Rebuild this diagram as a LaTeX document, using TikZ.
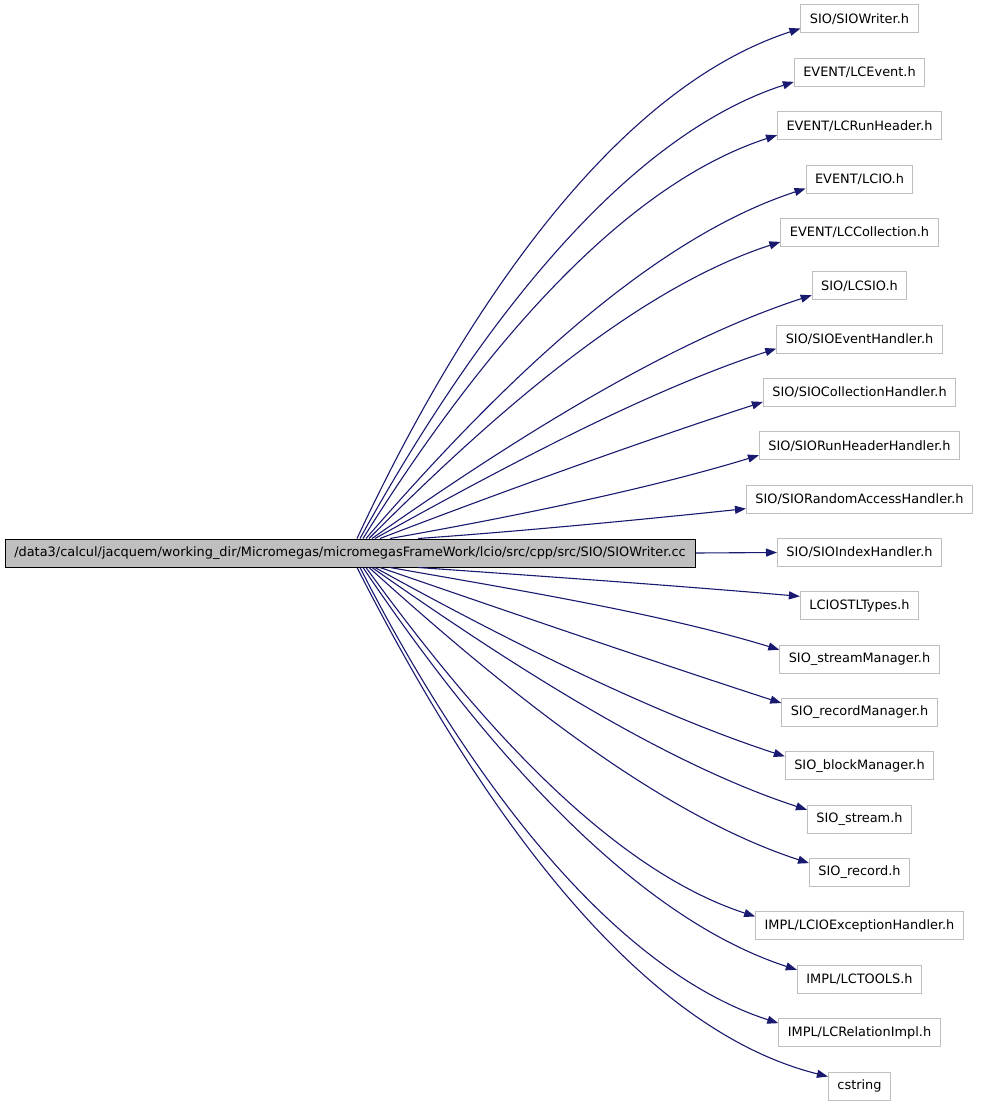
\documentclass[tikz,border=0pt]{standalone}
\usepackage{fontspec}
\setmainfont{DejaVu Sans}
\usetikzlibrary{arrows.meta,calc}

\definecolor{edgeblue}{HTML}{191970}
\definecolor{boxgray}{HTML}{BFBFBF}

\tikzset{
	header/.style={draw=boxgray, line width=1pt, minimum height=28pt, inner xsep=9pt,
		font=\fontsize{12.9}{14}\selectfont},
	source/.style={header, draw=black, fill=boxgray},
	edge/.style={draw=edgeblue, line width=1.1pt, -{Triangle[length=11pt,width=8pt]}},
}

\begin{document}
\begin{tikzpicture}[x=1pt, y=1pt]
	\useasboundingbox (0,0) rectangle (981,-1107);
	
	% the source file
	\node[source, minimum width=690pt] (main) at (350,-553)
		{/data3/calcul/jacquem/working\_dir/Micromegas/micromegasFrameWork/lcio/src/cpp/src/SIO/SIOWriter.cc};
	
	% included headers
	\foreach \lbl [count=\i] in {
		SIO/SIOWriter.h, EVENT/LCEvent.h, EVENT/LCRunHeader.h, EVENT/LCIO.h,
		EVENT/LCCollection.h, SIO/LCSIO.h, SIO/SIOEventHandler.h,
		SIO/SIOCollectionHandler.h, SIO/SIORunHeaderHandler.h,
		SIO/SIORandomAccessHandler.h, SIO/SIOIndexHandler.h, LCIOSTLTypes.h,
		SIO\_streamManager.h, SIO\_recordManager.h, SIO\_blockManager.h,
		SIO\_stream.h, SIO\_record.h, IMPL/LCIOExceptionHandler.h,
		IMPL/LCTOOLS.h, IMPL/LCRelationImpl.h, cstring
	} {
		\node[header] (h\i) at (859.5, {-19-(\i-1)*53.35}) {\lbl};
	}
	
	% edges above the source
	\foreach \i/\sx/\a/\b in {1/357/65/18, 2/360/61/18, 3/363/58/18, 4/366/49/18,
		5/369/45/18, 6/372/35/18, 7/375/29/18, 8/380/21/18, 9/390/10/17, 10/418/4/6} {
		\draw[edge] (\sx,0 |- main.north) to[out=\a, in=180+\b, looseness=0.8]
			($(h\i.south west)+(0,5)$);
	}
	
	% straight edge
	\draw[edge] (main.east) -- (h11.west);
	
	% edges below the source
	\foreach \i/\sx/\a/\b in {12/418/4/5, 13/390/10/17, 14/380/19/18, 15/375/29/18,
		16/372/35/18, 17/369/42/18, 18/366/54/18, 19/363/56/18, 20/360/63/18, 21/357/63/14} {
		\draw[edge] (\sx,0 |- main.south) to[out=-\a, in=180-\b, looseness=0.8]
			($(h\i.north west)+(0,-5)$);
	}
\end{tikzpicture}
\end{document}
